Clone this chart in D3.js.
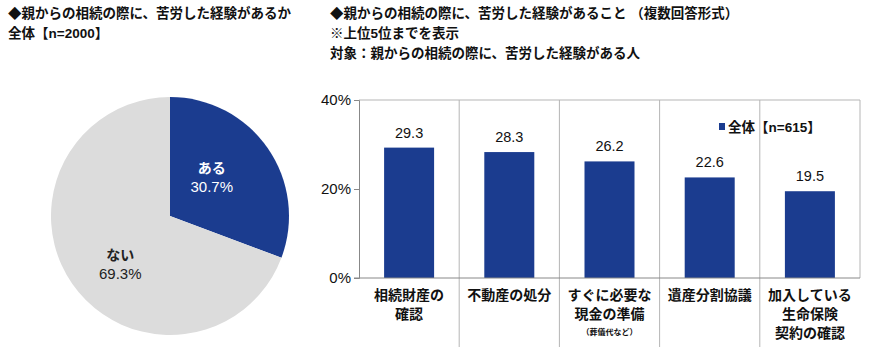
<!DOCTYPE html>
<html>
<head>
<meta charset="utf-8">
<script src="https://cdn.jsdelivr.net/npm/d3@7"></script>
<style>
  body { margin: 0; background: #fff; }
  svg text { font-family: "Liberation Sans", "Noto Sans CJK JP", sans-serif; }
</style>
</head>
<body>
<div id="chart"></div>
<script>
// pie data
var pieLabels = ["ある", "ない"];
var pieValues = [30.7, 69.3];
var pieColors = ["#1b3c8f", "#dcdcdc"];

// bar data
var barCategories = [
  ["相続財産の", "確認"],
  ["不動産の処分"],
  ["すぐに必要な", "現金の準備"],
  ["遺産分割協議"],
  ["加入している", "生命保険", "契約の確認"]
];
var barNotes = ["", "", "（葬儀代など）", "", ""];
var barValues = [29.3, 28.3, 26.2, 22.6, 19.5];
var yTicks = [0, 20, 40];
var legendLabel = "全体【n=615】";

var W = 870, H = 362;
var svg = d3.select("#chart").append("svg")
  .attr("width", W)
  .attr("height", H);

// titles
var titles = [
  { x: 8, y: 18, t: "◆親からの相続の際に、苦労した経験があるか" },
  { x: 8, y: 38, t: "全体【n=2000】" },
  { x: 330, y: 18, t: "◆親からの相続の際に、苦労した経験があること （複数回答形式）" },
  { x: 330, y: 38, t: "※上位5位までを表示" },
  { x: 330, y: 58, t: "対象：親からの相続の際に、苦労した経験がある人" }
];
svg.selectAll("text.title").data(titles).enter().append("text")
  .attr("class", "title")
  .attr("x", function (d) { return d.x; })
  .attr("y", function (d) { return d.y; })
  .attr("font-size", 13.5)
  .attr("font-weight", "bold")
  .attr("fill", "#111")
  .text(function (d) { return d.t; });

// ---- pie ----
var cx = 170, cy = 216, r = 119;
var pie = d3.pie().sort(null).value(function (d) { return d; });
var arc = d3.arc().innerRadius(0).outerRadius(r);
var pg = svg.append("g").attr("transform", "translate(" + cx + "," + cy + ")");
var arcs = pie(pieValues);

pg.selectAll("path").data(arcs).enter().append("path")
  .attr("d", arc)
  .attr("fill", function (d, i) { return pieColors[i]; });

// label placement: centroid, nudged a bit like the original
var labelArc = d3.arc().innerRadius(r * 0.55).outerRadius(r * 0.55);
var nudge = [[-12, -2], [4, 11]];
arcs.forEach(function (d, i) {
  var c = labelArc.centroid(d);
  var g = pg.append("g").attr("transform", "translate(" + (c[0] + nudge[i][0]) + "," + (c[1] + nudge[i][1]) + ")");
  var col = i === 0 ? "#fff" : "#222";
  g.append("text").attr("y", -4).attr("text-anchor", "middle")
    .attr("font-size", 14).attr("font-weight", "bold").attr("fill", col)
    .text(pieLabels[i]);
  g.append("text").attr("y", 15).attr("text-anchor", "middle")
    .attr("font-size", 15).attr("fill", col)
    .text(pieValues[i].toFixed(1) + "%");
});

// ---- bars ----
var plotLeft = 359, plotRight = 860, plotTop = 100, plotBottom = 278;

var x = d3.scaleBand()
  .domain(d3.range(barValues.length))
  .range([plotLeft, plotRight])
  .paddingInner(0)
  .paddingOuter(0);

var y = d3.scaleLinear().domain([0, 40]).range([plotBottom, plotTop]);

var bg = svg.append("g");

// frame: top and right
bg.append("line").attr("x1", plotLeft).attr("x2", plotRight).attr("y1", y(40)).attr("y2", y(40))
  .attr("stroke", "#b5b5b5");
bg.append("line").attr("x1", plotRight).attr("x2", plotRight).attr("y1", y(40)).attr("y2", y(0))
  .attr("stroke", "#b5b5b5");

// category separators
d3.range(1, barValues.length).forEach(function (i) {
  bg.append("line")
    .attr("x1", x(i)).attr("x2", x(i))
    .attr("y1", y(40)).attr("y2", 347)
    .attr("stroke", "#b5b5b5");
});

var bw = 50;
bg.selectAll("rect.bar").data(barValues).enter().append("rect")
  .attr("class", "bar")
  .attr("x", function (d, i) { return x(i) + x.bandwidth() / 2 - bw / 2; })
  .attr("y", function (d) { return y(d); })
  .attr("width", bw)
  .attr("height", function (d) { return y(0) - y(d); })
  .attr("fill", "#1b3c8f");

bg.selectAll("text.val").data(barValues).enter().append("text")
  .attr("class", "val")
  .attr("x", function (d, i) { return x(i) + x.bandwidth() / 2; })
  .attr("y", function (d) { return y(d) - 10; })
  .attr("text-anchor", "middle")
  .attr("font-size", 14.5)
  .attr("fill", "#111")
  .text(function (d) { return d.toFixed(1); });

// y axis
var yAxis = d3.axisLeft(y).tickValues(yTicks).tickSize(5).tickPadding(3)
  .tickFormat(function (d) { return d + "%"; });
var ya = bg.append("g").attr("transform", "translate(" + plotLeft + ",0)").call(yAxis);
ya.select(".domain").attr("stroke", "#888");
ya.selectAll(".tick line").attr("stroke", "#888");
ya.selectAll(".tick text").attr("font-size", 15).attr("fill", "#111")
  .attr("font-family", "\"Liberation Sans\", sans-serif");

// x axis line
bg.append("line").attr("x1", plotLeft - 5).attr("x2", plotRight).attr("y1", y(0)).attr("y2", y(0))
  .attr("stroke", "#888");

// category labels
barCategories.forEach(function (lines, i) {
  var cxp = x(i) + x.bandwidth() / 2;
  lines.forEach(function (t, j) {
    bg.append("text")
      .attr("x", cxp).attr("y", 300 + j * 19)
      .attr("text-anchor", "middle")
      .attr("font-size", 14).attr("font-weight", "bold").attr("fill", "#111")
      .text(t);
  });
  if (barNotes[i]) {
    bg.append("text")
      .attr("x", cxp).attr("y", 300 + lines.length * 19 - 3)
      .attr("text-anchor", "middle")
      .attr("font-size", 8).attr("font-weight", "bold").attr("fill", "#111")
      .text(barNotes[i]);
  }
});

// legend
var lg = svg.append("g").attr("transform", "translate(719,127)");
lg.append("rect").attr("x", 0).attr("y", -4).attr("width", 6).attr("height", 7).attr("fill", "#1b3c8f");
lg.append("text").attr("x", 9).attr("y", 5)
  .attr("font-size", 13.5).attr("font-weight", "bold").attr("fill", "#111")
  .text(legendLabel);
</script>
</body>
</html>
